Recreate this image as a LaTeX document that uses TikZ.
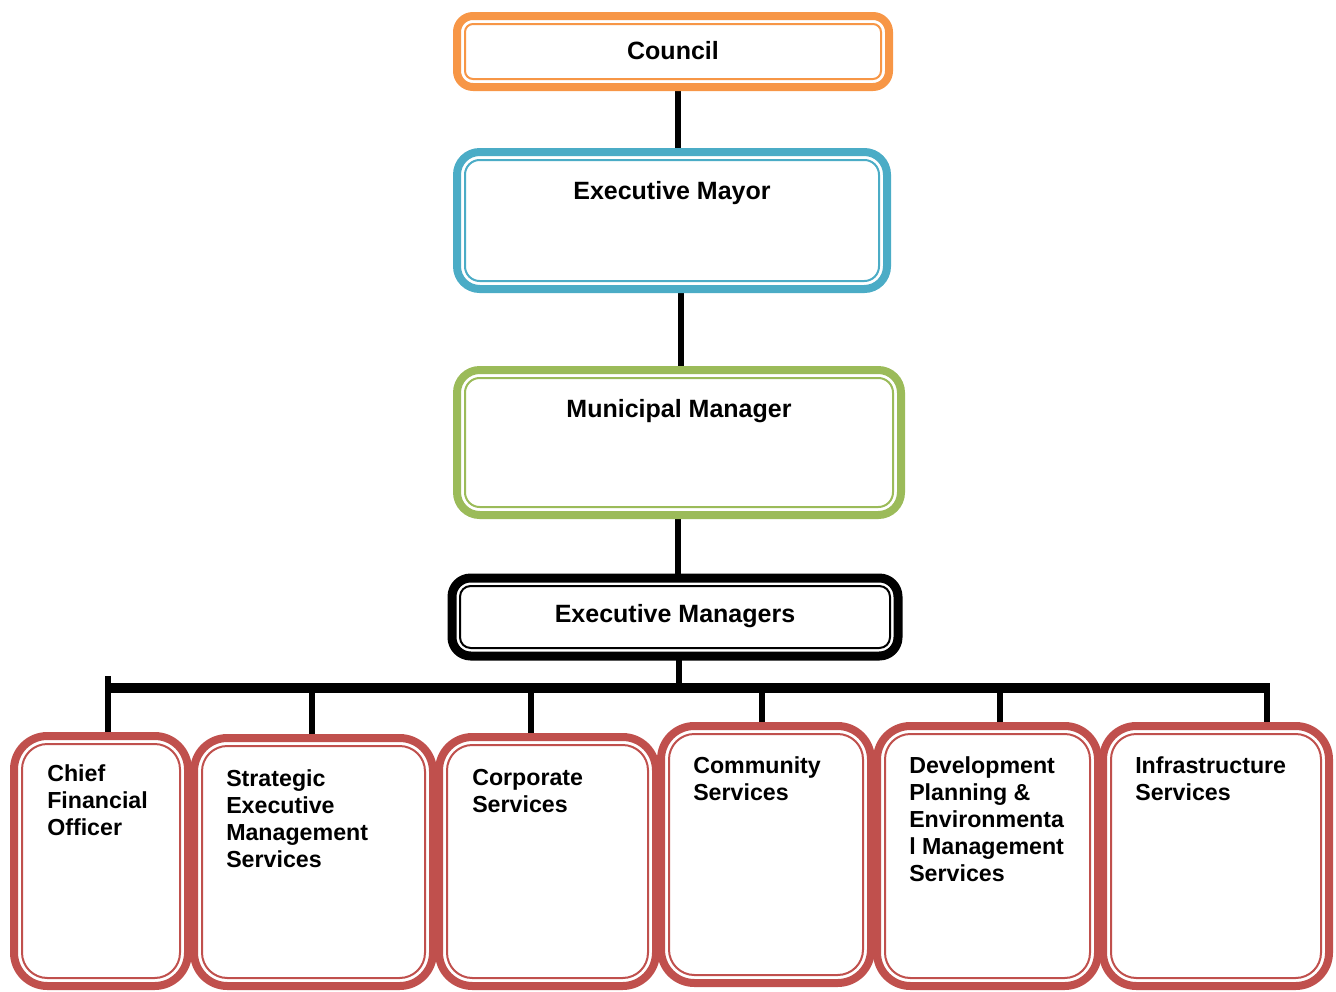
\documentclass[tikz,border=0pt]{standalone}
\usepackage{fontspec}
\setmainfont{Liberation Sans}
\usetikzlibrary{fit,backgrounds}
\definecolor{corange}{RGB}{247,150,70}
\definecolor{cblue}{RGB}{75,172,198}
\definecolor{cgreen}{RGB}{155,187,89}
\definecolor{cred}{RGB}{192,80,77}
\newcommand\innerframe[3]{\draw[draw=#2, line width=1.5pt, rounded corners=#3] ([shift={(8,8)}]#1.north west) rectangle ([shift={(-8,-8)}]#1.south east);}
\begin{document}
\begin{tikzpicture}[x=0.75pt,y=-0.75pt,
  box/.style={draw=#1, fill=white, line width=6pt, inner sep=0pt, outer sep=0pt},
  toptxt/.style={font=\fontsize{18.75pt}{20.25pt}\selectfont\bfseries, inner sep=0pt, anchor=base},
  subtxt/.style={font=\fontsize{17.4pt}{20.25pt}\selectfont\bfseries, inner sep=0pt, align=left, anchor=base west},
  conn/.style={line width=4.5pt, draw=black},
  busline/.style={line width=7.5pt, draw=black}]
\useasboundingbox (0,0) rectangle (1336,992);
% top boxes
\node[box=corange, rounded corners=12pt, fit={(457,16)(889,87)}] (council) {};
\innerframe{council}{corange}{6pt}
\node[box=cblue, rounded corners=17pt, fit={(457,152)(887,289)}] (mayor) {};
\innerframe{mayor}{cblue}{11pt}
\node[box=cgreen, rounded corners=17pt, fit={(457,370)(901,515)}] (mm) {};
\innerframe{mm}{cgreen}{11pt}
\node[box=black, line width=6.75pt, rounded corners=14pt, fit={(452,578)(898,656)}] (em) {};
\innerframe{em}{black}{8pt}
% bottom boxes
\node[box=cred, rounded corners=25pt, fit={(14,736)(188,986)}] (cfo) {};
\innerframe{cfo}{cred}{19pt}
\node[box=cred, rounded corners=25pt, fit={(194,738)(433,986)}] (sems) {};
\innerframe{sems}{cred}{19pt}
\node[box=cred, rounded corners=25pt, fit={(439,737)(656,986)}] (corp) {};
\innerframe{corp}{cred}{19pt}
\node[box=cred, rounded corners=25pt, fit={(661,726)(871,983)}] (comm) {};
\innerframe{comm}{cred}{19pt}
\node[box=cred, rounded corners=25pt, fit={(877,726)(1098,986)}] (dev) {};
\innerframe{dev}{cred}{19pt}
\node[box=cred, rounded corners=25pt, fit={(1103,726)(1329,986)}] (infra) {};
\innerframe{infra}{cred}{19pt}
% texts (anchor at baseline of last line)
\node[toptxt] (tcouncil) at (673,60) {Council};
\node[toptxt] (tmayor) at (672,199) {Executive Mayor};
\node[toptxt] (tmm) at (679,417) {Municipal Manager};
\node[toptxt] (tem) at (675,622) {Executive Managers};
\node[subtxt] (tcfo) at (47,835) {Chief\\Financial\\Officer};
\node[subtxt] (tsems) at (226,867) {Strategic\\Executive\\Management\\Services};
\node[subtxt] (tcorp) at (472,812) {Corporate\\Services};
\node[subtxt] (tcomm) at (693,800) {Community\\Services};
\node[subtxt] (tdev) at (909,881) {Development\\Planning \&\\Environmenta\\l Management\\Services};
\node[subtxt] (tinfra) at (1135,800) {Infrastructure\\Services};
% connectors
\coordinate (busL) at (105,688);
\coordinate (busR) at (1270,688);
\begin{scope}[on background layer]
\draw[conn] ([shift={(5,0)}]council.south) -- ([shift={(5,0)}]council.south |- mayor.north);
\draw[conn] ([shift={(9,0)}]mayor.south) -- ([shift={(9,0)}]mayor.south |- mm.north);
\draw[conn] ([shift={(-1,0)}]mm.south) -- ([shift={(-1,0)}]mm.south |- em.north);
\draw[conn] ([shift={(4,0)}]em.south) -- ([shift={(4,0)}]em.south |- busL);
\draw[busline] (busL) -- (busR);
\draw[conn] ([shift={(7,0)}]cfo.north) -- ([shift={(7,-12)}]cfo.north |- busL);
\draw[conn] ([shift={(-1.5,0)}]sems.north) -- ([shift={(-1.5,0)}]sems.north |- busL);
\draw[conn] ([shift={(-16.5,0)}]corp.north) -- ([shift={(-16.5,0)}]corp.north |- busL);
\draw[conn] ([shift={(-4,0)}]comm.north) -- ([shift={(-4,0)}]comm.north |- busL);
\draw[conn] ([shift={(12.5,0)}]dev.north) -- ([shift={(12.5,0)}]dev.north |- busL);
\draw[conn] ([shift={(51,0)}]infra.north) -- ([shift={(51,-5)}]infra.north |- busL);
\end{scope}
\end{tikzpicture}
\end{document}
